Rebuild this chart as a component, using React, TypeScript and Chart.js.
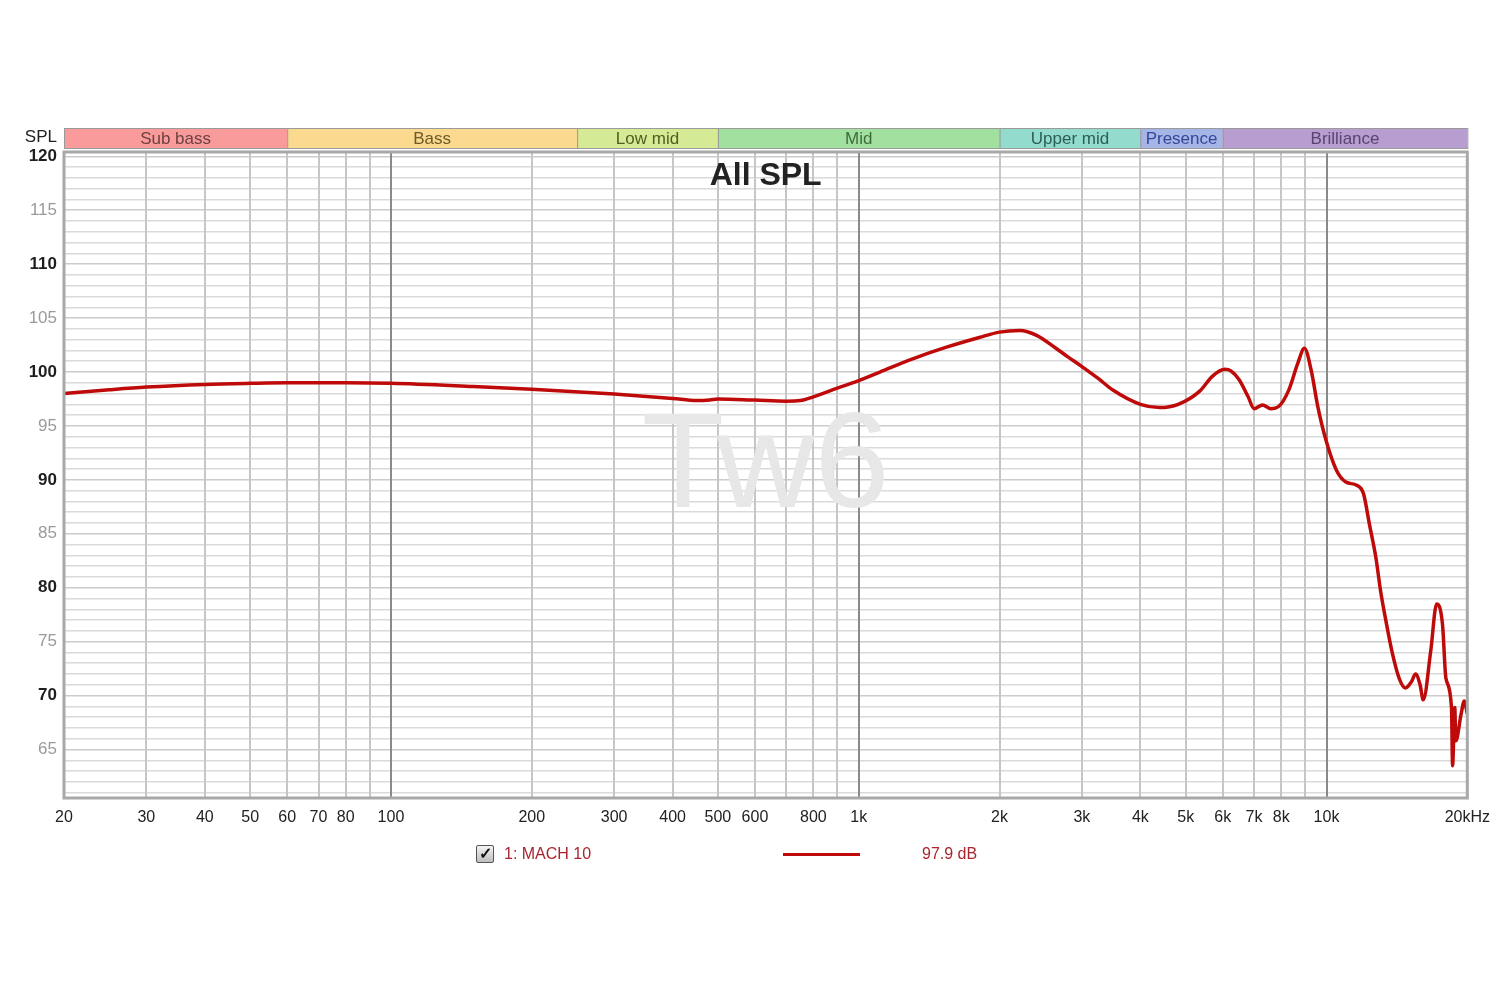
import React, { useEffect, useRef } from 'react';
import { Chart, registerables } from 'chart.js';

Chart.register(...registerables);

// ---- Data ----
const freqs = [
  20, 25, 30, 40, 50, 60, 80, 100, 150, 200, 300, 400, 450, 480, 500, 600, 700, 750, 800, 900,
  1000, 1110, 1300, 1540, 1810, 2000, 2210, 2400, 2640, 2800, 3000, 3250, 3500, 4000, 4400, 4820,
  5350, 5700, 6060, 6250, 6500, 6800, 7000, 7300, 7600, 7900, 8300, 8680, 8970, 9270, 9580,
  10000, 10500, 11000, 11600, 12000, 12350, 12750, 13050, 13400, 13800, 14300, 14750, 15200,
  15500, 15850, 16100, 16700, 17200, 17700, 18000, 18500, 18600, 18800, 18900, 19400, 19700,
  20000,
];
const spl = [
  98.0, 98.35, 98.6, 98.85, 98.95, 99.0, 99.0, 98.95, 98.65, 98.4, 97.95, 97.55, 97.35, 97.4, 97.5,
  97.4, 97.3, 97.35, 97.7, 98.5, 99.2, 100.0, 101.2, 102.3, 103.2, 103.7, 103.85, 103.4, 102.2,
  101.4, 100.5, 99.4, 98.3, 97.0, 96.7, 97.0, 98.2, 99.6, 100.25, 100.1, 99.3, 97.7, 96.6, 96.95,
  96.6, 96.8, 98.3, 100.8, 102.2, 100.2, 96.8, 93.5, 90.9, 89.8, 89.5, 88.7, 85.9, 82.8, 79.7,
  76.9, 74.1, 71.6, 70.7, 71.3, 72.0, 71.0, 69.6, 74.1, 78.5, 76.6, 71.6, 68.9, 63.5, 68.9, 65.8,
  68.3, 69.5, 68.3,
];

const xTickValues = [
  20, 30, 40, 50, 60, 70, 80, 90, 100, 200, 300, 400, 500, 600, 700, 800, 900, 1000, 2000, 3000,
  4000, 5000, 6000, 7000, 8000, 9000, 10000, 20000,
];
const xTickLabels = [
  '20', '30', '40', '50', '60', '70', '80', '', '100', '200', '300', '400', '500', '600', '', '800',
  '', '1k', '2k', '3k', '4k', '5k', '6k', '7k', '8k', '', '10k', '20kHz',
];
const yMin = 60.5;
const yMax = 120.4;
const yGridValues = Array.from({ length: 60 }, (_, i) => 61 + i);

const bandNames = ['Sub bass', 'Bass', 'Low mid', 'Mid', 'Upper mid', 'Presence', 'Brilliance'];
const bandEdges = [20, 60, 250, 500, 2000, 4000, 6000, 20000];
const bandColors = ['#f99b9b', '#fbd98f', '#d5ea94', '#a2e09f', '#93dccd', '#a5b5e6', '#b79dd0'];
const bandTextColors = ['#6e4040', '#6b5a2a', '#4f5e22', '#3f6b3d', '#2c5e57', '#34489a', '#5a4472'];

const seriesName = '1: MACH 10';
const seriesLevel = '97.9 dB';
const chartTitle = 'All SPL';
const watermark = 'Tw6';
const yAxisTitle = 'SPL';

const FONT = '"Liberation Sans", Arial, sans-serif';
const CURVE = '#bf0a0a';

const decorPlugin = {
  id: 'decor',
  beforeDraw(chart: any) {
    const { ctx } = chart;
    ctx.save();
    ctx.fillStyle = '#ffffff';
    ctx.fillRect(0, 0, chart.width, chart.height);
    ctx.restore();
  },
  beforeDatasetsDraw(chart: any) {
    const { ctx, chartArea } = chart;
    const cx = (chartArea.left + chartArea.right) / 2;
    ctx.save();
    ctx.fillStyle = '#e7e7e7';
    ctx.font = `135px ${FONT}`;
    ctx.textAlign = 'center';
    ctx.textBaseline = 'middle';
    ctx.fillText(watermark, cx, 470);
    ctx.fillStyle = '#222222';
    ctx.font = `bold 32px ${FONT}`;
    ctx.fillText(chartTitle, cx, 176);
    ctx.restore();
  },
  afterDraw(chart: any) {
    const { ctx, chartArea, scales } = chart;
    const xs = scales.x;
    ctx.save();
    // frame
    ctx.strokeStyle = '#a8a8a8';
    ctx.lineWidth = 3;
    ctx.strokeRect(chartArea.left, chartArea.top, chartArea.right - chartArea.left, chartArea.bottom - chartArea.top);
    // band header
    const top = 128;
    const h = 20;
    ctx.font = `17px ${FONT}`;
    ctx.textAlign = 'center';
    ctx.textBaseline = 'middle';
    for (let i = 0; i < bandNames.length; i++) {
      const x0 = xs.getPixelForValue(bandEdges[i]);
      const x1 = xs.getPixelForValue(bandEdges[i + 1]);
      ctx.fillStyle = bandColors[i];
      ctx.fillRect(x0, top, x1 - x0, h);
      ctx.strokeStyle = '#9a9a9a';
      ctx.lineWidth = 1;
      ctx.strokeRect(x0 + 0.5, top + 0.5, x1 - x0, h);
      ctx.fillStyle = bandTextColors[i];
      ctx.fillText(bandNames[i], (x0 + x1) / 2, top + h / 2 + 1);
    }
    // SPL label
    ctx.fillStyle = '#222222';
    ctx.font = `17px ${FONT}`;
    ctx.textAlign = 'right';
    ctx.fillText(yAxisTitle, 57, top + h / 2 - 1);
    ctx.restore();
  },
};

export default function App() {
  const ref = useRef<HTMLCanvasElement | null>(null);
  useEffect(() => {
    if (!ref.current) return;
    const data = freqs.map((f, i) => ({ x: f, y: spl[i] }));
    const chart = new Chart(ref.current, {
      type: 'line',
      data: {
        datasets: [
          {
            label: seriesName,
            data,
            borderColor: CURVE,
            borderWidth: 3.5,
            pointRadius: 0,
            fill: false,
            cubicInterpolationMode: 'monotone',
          },
        ],
      },
      options: {
        animation: false,
        responsive: false,
        devicePixelRatio: 1,
        layout: { padding: { top: 152, left: 0, right: 32, bottom: 162 } },
        plugins: { legend: { display: false }, tooltip: { enabled: false }, title: { display: false } },
        scales: {
          x: {
            type: 'logarithmic',
            min: 20,
            max: 20000,
            afterBuildTicks: (s: any) => {
              s.ticks = xTickValues.map((v) => ({ value: v }));
            },
            afterFit: (s: any) => {
              s.height = 40;
            },
            border: { display: false },
            grid: {
              z: -1,
              drawTicks: false,
              color: (c: any) => {
                const v = c.tick?.value;
                return v === 100 || v === 1000 || v === 10000 ? '#8a8a8a' : '#c6c6c6';
              },
              lineWidth: 2,
            },
            ticks: {
              autoSkip: false,
              maxRotation: 0,
              padding: 10,
              color: '#222222',
              font: { family: FONT, size: 16 },
              callback: (_v: any, i: number) => xTickLabels[i],
            },
          },
          y: {
            min: yMin,
            max: yMax,
            afterBuildTicks: (s: any) => {
              s.ticks = yGridValues.map((v) => ({ value: v }));
            },
            afterFit: (s: any) => {
              s.width = 64;
            },
            border: { display: false },
            grid: {
              z: -2,
              drawTicks: false,
              color: (c: any) => (c.tick?.value % 5 === 0 ? '#cccccc' : '#dadada'),
              lineWidth: 1.5,
            },
            ticks: {
              autoSkip: false,
              padding: 7,
              color: (c: any) => (c.tick?.value % 10 === 0 ? '#1e1e1e' : '#9a9a9a'),
              font: (c: any) => ({
                family: FONT,
                size: 17,
                weight: c.tick?.value % 10 === 0 ? 'bold' : 'normal',
              }),
              callback: (v: any) => (Number(v) % 5 === 0 ? String(v) : ''),
            },
          },
        },
      },
      plugins: [decorPlugin],
    } as any);
    return () => chart.destroy();
  }, []);

  const legendText: React.CSSProperties = {
    position: 'absolute',
    top: 844,
    fontFamily: FONT,
    fontSize: 16,
    color: '#a8262e',
    lineHeight: '20px',
  };

  return (
    <div style={{ position: 'absolute', left: 0, top: 0, width: 1500, height: 1000, background: '#fff' }}>
      <canvas ref={ref} width={1500} height={1000} style={{ position: 'absolute', left: 0, top: 0 }} />
      <div
        style={{
          position: 'absolute',
          left: 476,
          top: 845,
          width: 16,
          height: 16,
          border: '1px solid #555',
          borderRadius: 2,
          background: 'linear-gradient(#f4f4f4, #bdbdbd)',
          fontFamily: FONT,
          fontSize: 16,
          fontWeight: 'bold',
          lineHeight: '16px',
          textAlign: 'center',
          color: '#111',
        }}
      >
        ✓
      </div>
      <div style={{ ...legendText, left: 504 }}>{seriesName}</div>
      <div style={{ position: 'absolute', left: 783, top: 853, width: 77, height: 3, background: CURVE }} />
      <div style={{ ...legendText, left: 922 }}>{seriesLevel}</div>
    </div>
  );
}
